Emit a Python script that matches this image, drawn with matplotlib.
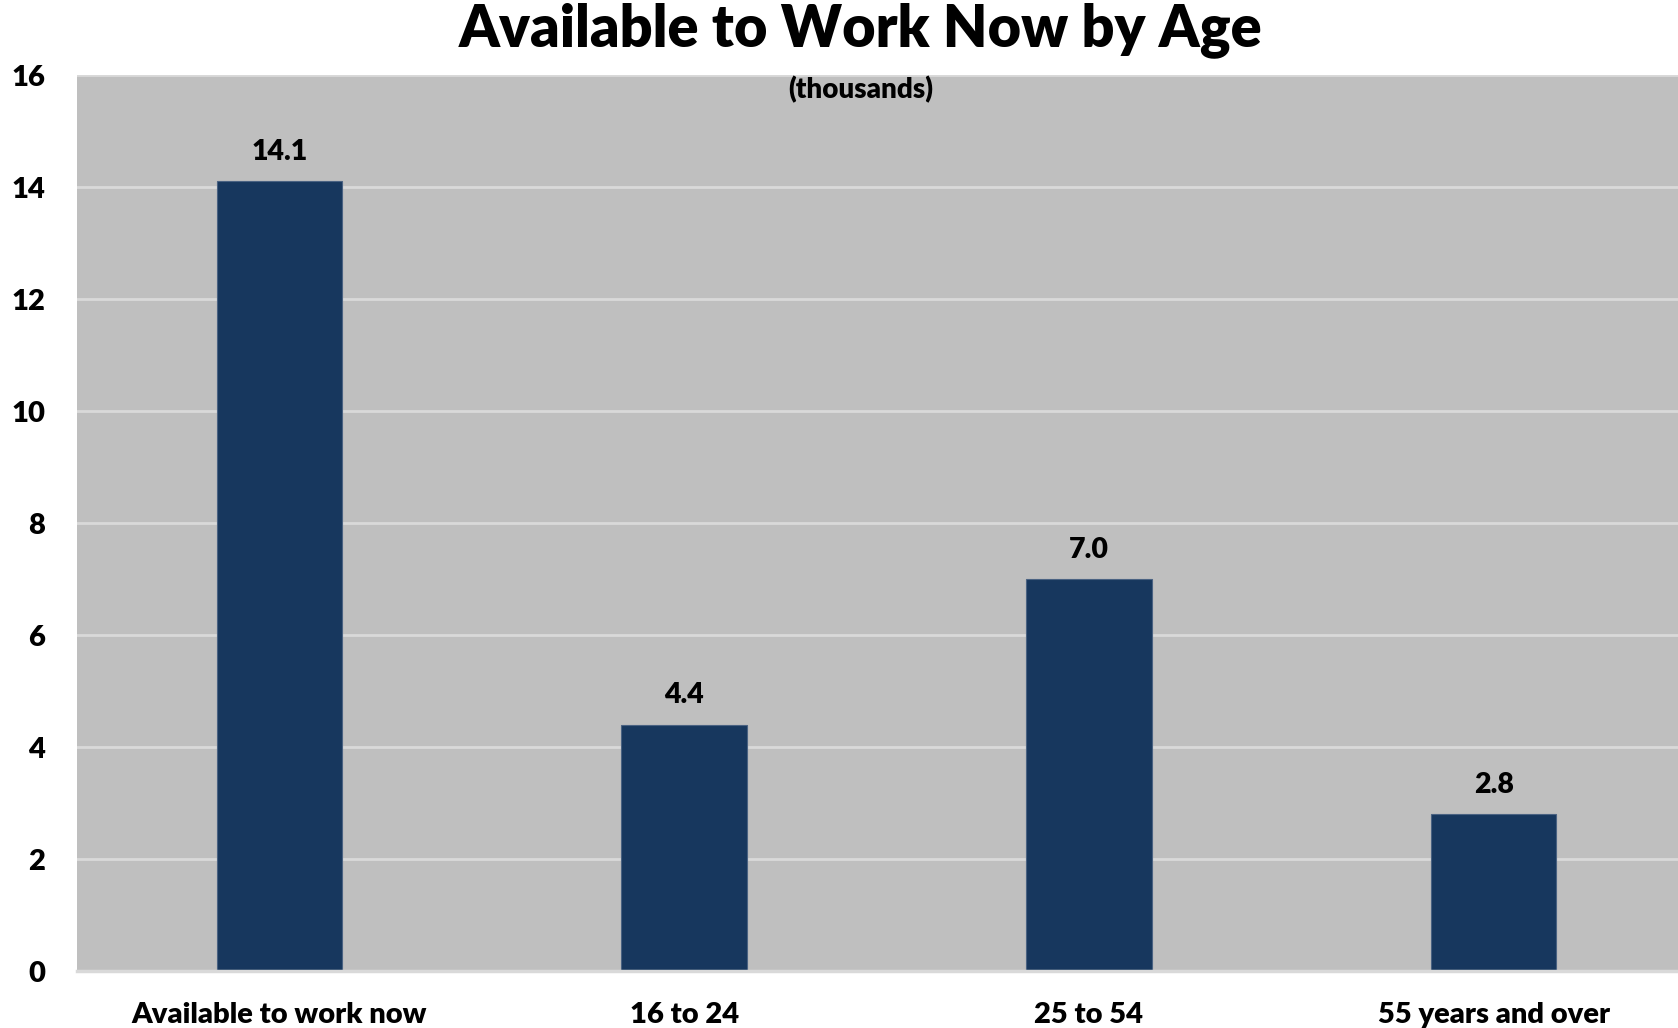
import matplotlib.pyplot as plt

categories = ["Available to work now", "16 to 24", "25 to 54", "55 years and over"]
values = [14.1, 4.4, 7.0, 2.8]
y_ticks = [0, 2, 4, 6, 8, 10, 12, 14, 16]

W, H = 1678, 1028

plt.rcParams["font.family"] = ["Lato", "DejaVu Sans"]
plt.rcParams["font.weight"] = "heavy"

fig = plt.figure(figsize=(W / 100, H / 100), dpi=100)
# axes spans x from 77px to ~1696px (clipped at right edge), y from 75 to 971
left, right = 77, 1696
top, bottom = 75, 971
ax = fig.add_axes([left / W, 1 - bottom / H, (right - left) / W, (bottom - top) / H])
ax.set_facecolor("#bfbfbf")

x = range(len(categories))
ax.bar(x, values, width=0.31, color="#17375e", edgecolor="#4a6282", linewidth=0.8, zorder=3)

for xi, v in zip(x, values):
    ax.text(xi, v + 0.52, f"{v:.1f}", ha="center", va="center",
            fontsize=20.5, fontweight="heavy", color="black", zorder=4)

ax.set_xlim(-0.5, 3.5)
ax.set_ylim(0, 16)
ax.set_yticks(y_ticks)
ax.set_yticklabels([str(t) for t in y_ticks], fontsize=21, fontweight="heavy")
ax.set_xticks(list(x))
ax.set_xticklabels(categories, fontsize=21, fontweight="heavy")
ax.tick_params(axis="y", length=0, pad=23)
ax.tick_params(axis="x", length=0, pad=22)

ax.grid(axis="y", color="#d9d9d9", linewidth=2, zorder=1)
for s in ["left", "right", "top"]:
    ax.spines[s].set_visible(False)
ax.spines["bottom"].set_color("#d9d9d9")
ax.spines["bottom"].set_linewidth(2.5)
ax.spines["bottom"].set_zorder(5)

fig.text(861 / W, 1 - 30 / H, "Available to Work Now by Age", ha="center", va="center",
         fontsize=41.5, fontweight="heavy")
fig.text(861 / W, 1 - 90 / H, "(thousands)", ha="center", va="center",
         fontsize=20, fontweight="heavy")

fig.savefig("out.png", dpi=100)
